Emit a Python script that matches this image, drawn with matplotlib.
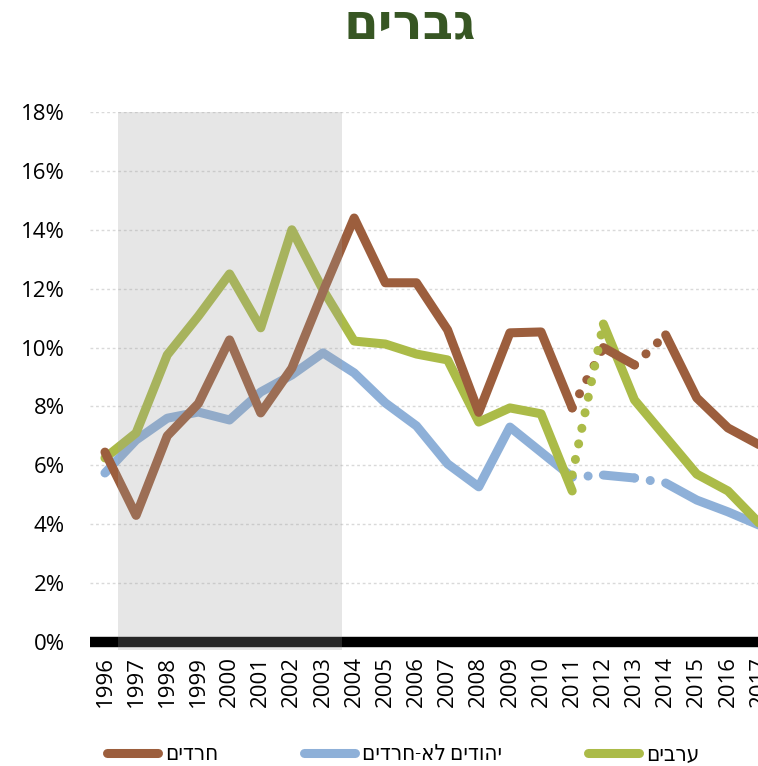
import numpy as np
import matplotlib.pyplot as plt
from matplotlib.lines import Line2D

plt.rcParams['font.family'] = ['Open Sans', 'DejaVu Sans']

years = list(range(1996, 2018))
# share (%) by year, men
haredim = [6.45, 4.3, 7.0, 8.1, 10.26, 7.78, 9.3, 11.9, 14.4, 12.2, 12.2, 10.6,
           7.8, 10.5, 10.53, 7.95, 10.0, 9.41, 10.43, 8.29, 7.27, 6.7]
non_haredi = [5.74, 6.86, 7.6, 7.81, 7.54, 8.49, 9.07, 9.82, 9.14, 8.12, 7.34, 6.05,
              5.27, 7.3, 6.45, 5.6, 5.67, 5.57, 5.4, 4.82, 4.42, 3.97]
arabs = [6.25, 7.1, 9.75, 11.07, 12.5, 10.67, 14.0, 11.96, 10.22, 10.12, 9.78, 9.58,
         7.47, 7.95, 7.75, 5.13, 10.8, 8.22, 6.96, 5.7, 5.13, 4.04]
# dotted connector for arabs 2011 -> 2012
arabs_link_years = [2011, 2012]
arabs_link = [5.67, 10.8]

solid_parts = [(1996, 2011), (2012, 2013), (2014, 2017)]
dotted_parts = [(2011, 2012), (2013, 2014)]

shade_span = (1996.42, 2003.6)

labels = ['חרדים', 'יהודים לא-חרדים', 'ערבים']
title = 'גברים'

c_har = '#9c5e3d'
c_non = '#8eb0d8'
c_arb = '#abbb48'

def heb(s):
    # matplotlib has no bidi support, reverse for display
    return s[::-1]

fig = plt.figure(figsize=(7.58, 7.66), dpi=100)
ax = fig.add_axes([90/758, (766-642)/766, (774-90)/758, (642-112)/766])

yrs = np.array(years)
lw = 6.5
dot = (0, (0.01, 1.75))

def part(vals, a, b):
    m = (yrs >= a) & (yrs <= b)
    return yrs[m], np.array(vals)[m]

for vals, col, z, parts_s, parts_d in [
        (non_haredi, c_non, 3, solid_parts, dotted_parts),
        (arabs, c_arb, 4, [(1996, 2011), (2012, 2017)], []),
        (haredim, c_har, 5, solid_parts, dotted_parts)]:
    for a, b in parts_s:
        x, y = part(vals, a, b)
        ax.plot(x, y, color=col, lw=lw, solid_capstyle='round',
                solid_joinstyle='round', zorder=z)
    for a, b in parts_d:
        x, y = part(vals, a, b)
        ax.plot(x, y, color=col, lw=lw, linestyle=dot,
                dash_capstyle='round', zorder=z)

ax.plot(arabs_link_years, arabs_link, color=c_arb, lw=lw, linestyle=dot,
        dash_capstyle='round', zorder=6)

ax.fill_between(shade_span, -0.27, 18, color='#9f9f9f', alpha=0.25,
                lw=0, zorder=7, clip_on=False)
ax.axhline(0, color='black', lw=7.5, zorder=2, clip_on=False,
           solid_capstyle='butt')

ax.set_xlim(1995.52, 1995.52 + (774-90)/31.15)
ax.set_ylim(0, 18)
ax.set_yticks(np.arange(0, 19, 2))
ax.set_yticklabels([f'{v}%' for v in range(0, 19, 2)], fontsize=16)
ax.set_xticks(years)
ax.set_xticklabels([str(y) for y in years], rotation=90, fontsize=16, va='top')
ax.tick_params(length=0)
ax.tick_params(axis='y', pad=18)
ax.tick_params(axis='x', pad=10)
for s in ax.spines.values():
    s.set_visible(False)
ax.yaxis.grid(True, color='#d9d9d9', linestyle=(0, (2, 2)), lw=1)
ax.set_axisbelow(True)

fig.text(0.54, 0.967, heb(title), ha='center', va='center', fontsize=36,
         fontweight='bold', color='#375623')

# legend, one entry per block as in the original
leg_x = [107/758, 304/758, 588/758]
for lab, col, x0 in zip(labels, [c_har, c_non, c_arb], leg_x):
    h = Line2D([], [], color=col, lw=6.5, solid_capstyle='round')
    lg = fig.legend([h], [heb(lab)], loc='center left',
                    bbox_to_anchor=(x0, 11/766), frameon=False,
                    prop={'size': 16, 'stretch': 'condensed'},
                    handlelength=2.3, handletextpad=0.3, borderpad=0,
                    borderaxespad=0)

fig.savefig('out.png', dpi=100)
plt.close()
print('Saved out.png')
